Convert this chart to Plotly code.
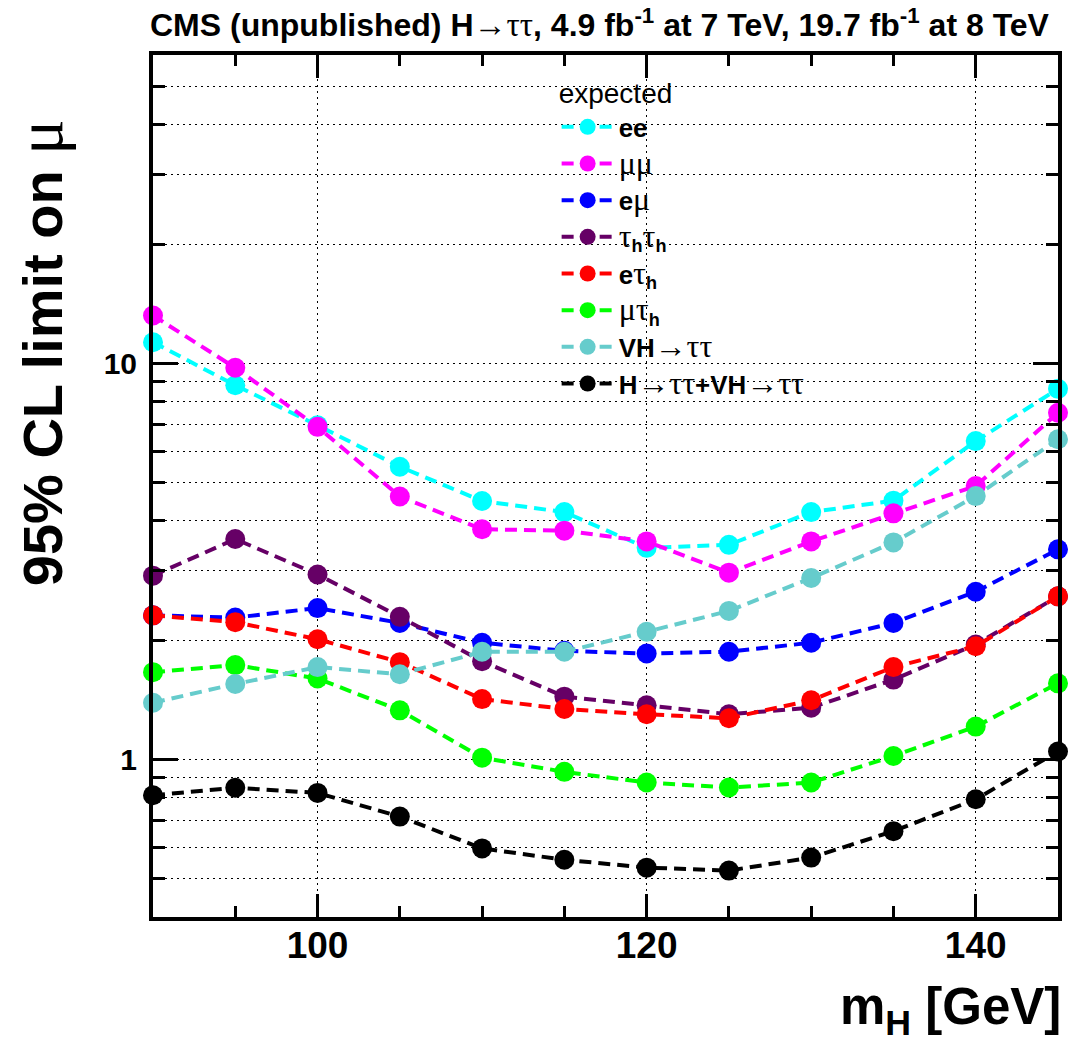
import plotly.graph_objects as go

# Higgs mass points (GeV)
mass = [90, 95, 100, 105, 110, 115, 120, 125, 130, 135, 140, 145]

# Expected 95% CL upper limits on the signal strength, per channel
lim_ee = [11.3, 8.8, 6.97, 5.48, 4.49, 4.21, 3.42, 3.48, 4.21, 4.5, 6.36, 8.62]
lim_mumu = [13.2, 9.74, 6.91, 4.61, 3.81, 3.78, 3.55, 2.96, 3.55, 4.18, 4.9, 7.5]
lim_emu = [2.31, 2.28, 2.41, 2.21, 1.97, 1.88, 1.85, 1.87, 1.97, 2.21, 2.65, 3.39]
lim_tautau = [2.91, 3.60, 2.93, 2.29, 1.77, 1.44, 1.37, 1.30, 1.35, 1.59, 1.95, 2.58]
lim_etau = [2.31, 2.22, 2.01, 1.76, 1.42, 1.34, 1.30, 1.27, 1.41, 1.71, 1.93, 2.58]
lim_mutau = [1.66, 1.73, 1.60, 1.33, 1.01, 0.93, 0.874, 0.849, 0.874, 1.02, 1.21, 1.556]
lim_vh = [1.39, 1.55, 1.71, 1.64, 1.87, 1.87, 2.10, 2.37, 2.87, 3.53, 4.62, 6.43]
lim_comb = [0.812, 0.848, 0.823, 0.717, 0.596, 0.558, 0.533, 0.524, 0.565, 0.659, 0.793, 1.047]

SANS = "Liberation Sans, Arial, sans-serif"
SERIF = "Liberation Serif"


def g(s, px):
    """Greek / symbol glyphs in a plain serif face at a given pixel size."""
    return (f'<span style="font-family:{SERIF};font-weight:normal;'
            f'font-size:{px}px">{s}</span>')


LEG = 32  # serif glyph size in the legend
SUB_H = "<sub><b>h</b></sub>"

channels = [
    ("<b>ee</b>", lim_ee, "#00FFFF"),
    (g("μμ", LEG), lim_mumu, "#FF00FF"),
    ("<b>e</b>" + g("μ", LEG), lim_emu, "#0000FF"),
    (g("τ", LEG) + SUB_H + g("τ", LEG) + SUB_H, lim_tautau, "#660066"),
    ("<b>e</b>" + g("τ", LEG) + SUB_H, lim_etau, "#FF0000"),
    (g("μτ", LEG) + SUB_H, lim_mutau, "#00FF00"),
    ("<b>VH</b>" + g("→ττ", LEG), lim_vh, "#66CCCC"),
    ("<b>H</b>" + g("→ττ", LEG) + "<b>+VH</b>" + g("→ττ", LEG), lim_comb, "#000000"),
]

fig = go.Figure()
for name, vals, col in channels:
    fig.add_trace(go.Scatter(
        x=mass, y=vals, name=name, mode="lines+markers",
        line=dict(color=col, width=4, dash="12px,7px"),
        marker=dict(color=col, size=20, symbol="circle"),
        cliponaxis=False,
    ))

GRID_DASH = "2px,4px"

fig.update_xaxes(
    range=[90, 145], showline=True, linecolor="black", linewidth=4, mirror="allticks",
    tickmode="array", tickvals=[100, 120, 140],
    ticks="inside", ticklen=23, tickwidth=3, tickcolor="black",
    tickfont=dict(family=SANS, size=37, color="black", weight="bold"),
    ticklabelstandoff=-7,
    showgrid=True, gridcolor="black", gridwidth=1, griddash=GRID_DASH,
    zeroline=False,
    minor=dict(dtick=5, tick0=90, ticks="inside", ticklen=11, tickwidth=3,
               tickcolor="black", showgrid=False),
)

fig.update_yaxes(
    type="log", range=[-0.3979, 1.7782],
    showline=True, linecolor="black", linewidth=4, mirror="allticks",
    tickmode="array", tickvals=[1, 10], ticktext=["1", "10"],
    ticks="inside", ticklen=25, tickwidth=3, tickcolor="black",
    tickfont=dict(family=SANS, size=30, color="black", weight="bold"),
    ticklabelstandoff=6,
    showgrid=True, gridcolor="black", gridwidth=1, griddash=GRID_DASH,
    zeroline=False,
    minor=dict(tickmode="array",
               tickvals=[0.5, 0.6, 0.7, 0.8, 0.9, 2, 3, 4, 5, 6, 7, 8, 9, 20, 30, 40, 50],
               ticks="inside", ticklen=12, tickwidth=3, tickcolor="black",
               showgrid=True, gridcolor="black", gridwidth=1, griddash=GRID_DASH),
)

fig.update_layout(
    width=1069, height=1049,
    margin=dict(l=153, r=7, t=55, b=132),
    plot_bgcolor="white", paper_bgcolor="white",
    font=dict(family=SANS, color="black"),
    showlegend=True,
    legend=dict(
        x=0.446, y=0.986, xanchor="left", yanchor="top",
        bgcolor="rgba(0,0,0,0)", borderwidth=0,
        font=dict(family=SANS, size=25.9, color="black"),
        title=dict(text="expected", font=dict(family=SANS, size=28, color="black")),
        itemwidth=52, itemsizing="trace", tracegroupgap=0,
    ),
    annotations=[
        dict(text="<b>CMS (unpublished) H</b>" + g("→ττ", 33)
             + "<b>, 4.9 fb<sup>-1</sup> at 7 TeV, 19.7 fb<sup>-1</sup> at 8 TeV</b>",
             xref="paper", yref="paper", x=0.494, y=1.037,
             xanchor="center", yanchor="middle", showarrow=False,
             font=dict(family=SANS, size=32, color="black")),
        dict(text="<b>95% CL limit on </b>" + g("μ", 66),
             xref="paper", yref="paper", x=-0.125, y=0.655,
             xanchor="center", yanchor="middle", textangle=-90, showarrow=False,
             font=dict(family=SANS, size=56, color="black")),
        dict(text="<b>m<sub>H</sub> [GeV]</b>",
             xref="paper", yref="paper", x=1.006, y=-0.108,
             xanchor="right", yanchor="middle", showarrow=False,
             font=dict(family=SANS, size=51, color="black")),
    ],
)

fig.write_html("out.html")
